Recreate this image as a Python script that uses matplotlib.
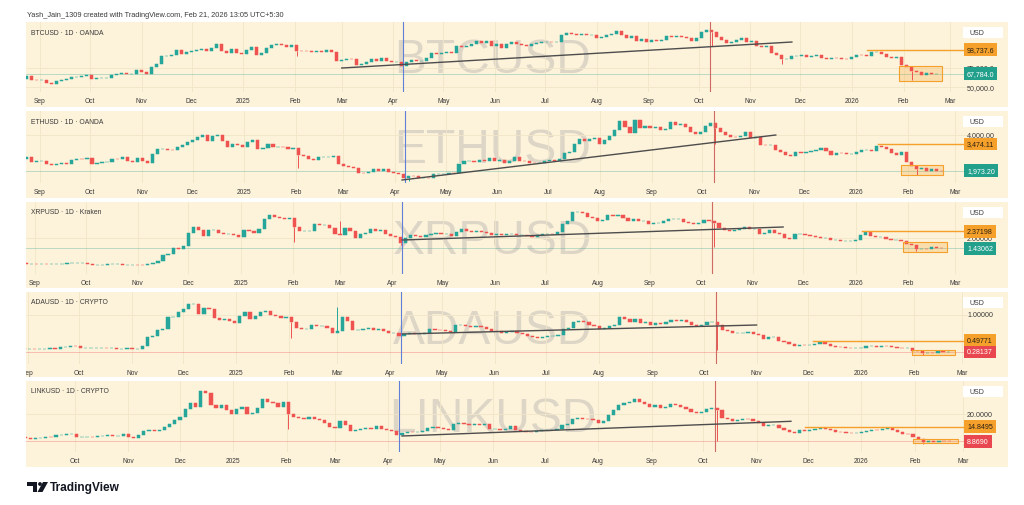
import datetime as dt

import matplotlib
matplotlib.use("Agg")
import matplotlib.pyplot as plt
import numpy as np
from matplotlib.patches import Circle, Polygon, Rectangle
from matplotlib.transforms import blended_transform_factory

# 3-day closes from 2024-08-21 to 2026-02-21 (first value = open of first candle)
BASE_DATE = "2024-08-24"
STEP_DAYS = 3

btc_close_k = [
    61.2, 64.2, 59.4, 59.1, 59.1, 56.2, 54.9, 57.6, 60.0, 60.3,
    63.2, 63.3, 65.2, 65.6, 60.6, 62.1, 62.2, 62.4, 66.0, 67.4,
    69.0, 66.7, 67.0, 72.7, 69.5, 67.8, 76.5, 80.4, 90.0, 90.6,
    92.3, 98.9, 93.0, 95.6, 97.2, 98.8, 99.9, 96.6, 101.4, 106.0,
    97.5, 95.1, 99.4, 94.3, 93.4, 98.1, 102.2, 92.5, 94.5, 100.5,
    104.4, 106.1, 104.7, 102.0, 104.7, 97.7, 96.6, 96.5, 95.8, 97.5,
    95.8, 98.3, 96.1, 84.7, 86.0, 87.2, 86.7, 78.5, 80.5, 82.6,
    86.8, 83.8, 87.4, 84.3, 82.5, 83.1, 78.2, 82.6, 85.3, 83.6,
    84.5, 87.5, 93.9, 93.8, 94.2, 95.9, 94.7, 102.9, 102.8, 103.6,
    106.5, 109.7, 107.9, 109.4, 103.9, 105.8, 101.5, 105.7, 108.7, 105.6,
    104.6, 103.3, 105.9, 107.2, 108.4, 108.9, 108.2, 108.9, 117.5, 119.8,
    119.3, 117.3, 118.7, 117.6, 117.9, 113.3, 115.0, 117.5, 119.3, 123.3,
    117.5, 113.5, 116.9, 110.1, 112.5, 108.3, 111.7, 110.2, 111.5, 115.9,
    115.3, 117.1, 115.3, 113.3, 109.6, 114.0, 122.3, 124.7, 121.5, 115.2,
    110.7, 107.2, 108.5, 111.0, 114.1, 108.3, 110.6, 103.9, 102.3, 103.0,
    94.5, 92.2, 86.6, 86.8, 90.5, 90.8, 91.3, 89.4, 90.6, 92.5,
    88.2, 86.2, 88.3, 87.5, 87.3, 87.2, 88.7, 91.5, 91.3, 90.5,
    95.5, 95.5, 92.6, 89.5, 88.3, 89.2, 78.6, 76.0, 70.5, 70.0,
    66.0, 68.8, 66.9, 67.8,
]
eth_close = [
    2630, 2770, 2460, 2530, 2540, 2370, 2300, 2340, 2420, 2340,
    2560, 2650, 2630, 2660, 2360, 2415, 2440, 2440, 2630, 2610,
    2750, 2520, 2480, 2680, 2510, 2400, 2900, 3180, 3220, 3130,
    3110, 3330, 3420, 3590, 3700, 3850, 4000, 3630, 3910, 3990,
    3630, 3280, 3490, 3400, 3330, 3600, 3690, 3220, 3260, 3450,
    3300, 3330, 3310, 3180, 3250, 2870, 2780, 2630, 2600, 2720,
    2740, 2740, 2820, 2340, 2220, 2170, 2140, 1870, 1860, 1890,
    2060, 1980, 2070, 1900, 1820, 1815, 1580, 1670, 1650, 1590,
    1590, 1580, 1770, 1790, 1800, 1840, 1820, 2350, 2500, 2540,
    2470, 2550, 2530, 2660, 2530, 2600, 2420, 2540, 2770, 2540,
    2510, 2410, 2400, 2420, 2500, 2570, 2520, 2620, 2950, 3010,
    3480, 3750, 3630, 3740, 3800, 3500, 3720, 3900, 4260, 4750,
    4420, 4070, 4830, 4380, 4500, 4390, 4450, 4280, 4310, 4710,
    4520, 4590, 4450, 4150, 4020, 4140, 4490, 4680, 4370, 4150,
    3990, 3890, 3880, 3940, 4150, 3810, 3890, 3420, 3400, 3420,
    3110, 3010, 2830, 2800, 3020, 2990, 3000, 3060, 3120, 3250,
    3090, 2830, 2980, 2960, 2930, 2940, 3000, 3130, 3160, 3090,
    3370, 3300, 3190, 2950, 2880, 3000, 2450, 2230, 2060, 2100,
    1940, 2050, 1980, 1973.2,
]
xrp_close = [
    0.60, 0.60, 0.56, 0.57, 0.56, 0.56, 0.54, 0.57, 0.58, 0.58,
    0.59, 0.59, 0.59, 0.64, 0.54, 0.53, 0.53, 0.53, 0.54, 0.54,
    0.55, 0.52, 0.52, 0.52, 0.51, 0.50, 0.55, 0.60, 0.70, 1.05,
    1.10, 1.45, 1.40, 1.55, 2.30, 2.60, 2.45, 2.10, 2.45, 2.45,
    2.30, 2.20, 2.20, 2.15, 2.08, 2.42, 2.40, 2.30, 2.50, 3.05,
    3.30, 3.15, 3.10, 3.05, 3.10, 2.60, 2.40, 2.40, 2.40, 2.75,
    2.70, 2.70, 2.55, 2.20, 2.15, 2.55, 2.40, 2.00, 2.20, 2.30,
    2.50, 2.40, 2.45, 2.20, 2.10, 2.05, 1.75, 2.00, 2.15, 2.10,
    2.08, 2.15, 2.20, 2.30, 2.20, 2.20, 2.10, 2.35, 2.50, 2.40,
    2.35, 2.40, 2.35, 2.30, 2.15, 2.20, 2.15, 2.25, 2.25, 2.15,
    2.15, 2.10, 2.05, 2.15, 2.25, 2.25, 2.20, 2.35, 2.75, 2.95,
    3.45, 3.45, 3.40, 3.15, 3.10, 2.95, 3.00, 3.30, 3.20, 3.30,
    3.10, 2.95, 3.05, 2.95, 2.95, 2.80, 2.85, 2.85, 2.95, 3.05,
    3.05, 3.05, 2.90, 2.85, 2.80, 2.85, 3.00, 2.95, 2.85, 2.55,
    2.45, 2.40, 2.45, 2.50, 2.60, 2.50, 2.50, 2.25, 2.30, 2.45,
    2.30, 2.20, 2.00, 1.95, 2.20, 2.20, 2.15, 2.10, 2.05, 2.00,
    2.00, 1.90, 1.90, 1.85, 1.85, 1.85, 1.90, 2.15, 2.35, 2.10,
    2.05, 2.05, 1.95, 1.90, 1.90, 1.85, 1.65, 1.60, 1.40, 1.40,
    1.38, 1.48, 1.45, 1.43062,
]
ada_close = [
    0.36, 0.38, 0.35, 0.34, 0.34, 0.33, 0.33, 0.34, 0.35, 0.34,
    0.37, 0.38, 0.40, 0.39, 0.35, 0.35, 0.35, 0.35, 0.36, 0.35,
    0.36, 0.34, 0.34, 0.36, 0.33, 0.33, 0.40, 0.56, 0.58, 0.70,
    0.73, 0.95, 0.95, 1.05, 1.10, 1.20, 1.20, 1.02, 1.12, 1.10,
    0.93, 0.90, 0.92, 0.88, 0.84, 0.97, 1.05, 0.92, 0.98, 1.05,
    1.07, 1.00, 0.98, 0.93, 0.95, 0.85, 0.75, 0.72, 0.73, 0.80,
    0.78, 0.78, 0.74, 0.65, 0.68, 0.95, 0.87, 0.70, 0.71, 0.72,
    0.74, 0.71, 0.72, 0.68, 0.65, 0.65, 0.58, 0.62, 0.64, 0.62,
    0.62, 0.65, 0.72, 0.71, 0.70, 0.69, 0.66, 0.80, 0.80, 0.78,
    0.76, 0.78, 0.76, 0.72, 0.69, 0.68, 0.64, 0.67, 0.69, 0.64,
    0.63, 0.58, 0.57, 0.55, 0.57, 0.58, 0.58, 0.60, 0.72, 0.75,
    0.85, 0.88, 0.85, 0.80, 0.78, 0.72, 0.75, 0.78, 0.80, 0.95,
    0.92, 0.85, 0.92, 0.84, 0.85, 0.80, 0.83, 0.82, 0.86, 0.90,
    0.88, 0.90, 0.85, 0.80, 0.78, 0.80, 0.85, 0.86, 0.80, 0.70,
    0.68, 0.65, 0.65, 0.65, 0.66, 0.62, 0.60, 0.54, 0.57, 0.57,
    0.50, 0.47, 0.44, 0.40, 0.42, 0.41, 0.41, 0.43, 0.47, 0.43,
    0.40, 0.38, 0.37, 0.36, 0.35, 0.35, 0.36, 0.39, 0.40, 0.38,
    0.40, 0.39, 0.37, 0.36, 0.35, 0.35, 0.30, 0.29, 0.26, 0.27,
    0.26, 0.29, 0.28, 0.28137,
]
link_close = [
    10.9, 11.2, 10.6, 10.5, 10.2, 10.0, 10.2, 10.4, 10.6, 10.5,
    11.3, 11.6, 11.7, 11.9, 10.6, 10.7, 10.8, 10.7, 11.1, 11.2,
    11.5, 10.9, 10.9, 11.8, 10.8, 10.2, 11.6, 13.0, 13.5, 13.2,
    13.6, 14.7, 16.0, 17.5, 18.9, 22.0, 24.5, 23.0, 29.5, 28.5,
    23.5, 22.5, 23.5, 21.5, 20.2, 22.0, 23.0, 20.0, 20.5, 22.5,
    26.0, 25.0, 24.5, 23.0, 25.0, 20.0, 19.0, 18.5, 18.0, 18.8,
    18.0, 17.5, 16.5, 14.8, 14.5, 17.0, 15.5, 13.0, 13.3, 13.8,
    14.5, 14.0, 15.0, 14.0, 13.7, 13.0, 11.3, 12.2, 12.8, 12.5,
    12.6, 13.0, 14.5, 14.8, 14.4, 14.0, 13.5, 16.0, 16.5, 16.0,
    15.5, 16.0, 15.5, 15.8, 14.0, 14.0, 13.5, 14.0, 15.2, 13.5,
    13.2, 12.8, 12.5, 13.0, 13.3, 13.5, 13.5, 14.0, 15.5, 16.0,
    18.0, 18.5, 18.0, 17.8, 17.5, 16.5, 17.0, 19.5, 21.5, 23.5,
    24.5, 25.0, 26.0, 25.0, 24.0, 23.0, 23.5, 22.5, 23.0, 24.0,
    23.5, 23.0, 22.0, 21.0, 20.5, 21.0, 22.0, 22.5, 21.5, 18.5,
    18.0, 17.0, 17.5, 18.0, 17.8, 17.0, 16.5, 15.0, 15.5, 15.5,
    14.5, 13.5, 12.5, 12.2, 13.3, 13.0, 13.5, 14.0, 14.5, 14.0,
    13.5, 12.8, 12.5, 12.3, 12.2, 12.3, 12.5, 13.0, 13.5, 13.3,
    14.0, 14.2, 13.5, 12.5, 12.0, 11.8, 10.5, 9.8, 8.8, 8.9,
    8.6, 9.0, 8.9, 8.869,
]

# long wicks (date, price)
btc_lows = [("2025-02-03", 91000), ("2025-10-10", 104000), ("2025-11-21", 80500), ("2026-02-05", 60000)]
eth_lows = [("2025-02-03", 2150), ("2025-04-09", 1400), ("2025-10-10", 3450), ("2026-02-06", 1750)]
xrp_lows = [("2025-02-03", 1.77), ("2025-04-07", 1.62), ("2025-10-10", 1.50), ("2026-02-06", 1.28)]
ada_lows = [("2025-02-03", 0.55), ("2025-10-10", 0.31), ("2026-02-06", 0.22)]
link_lows = [("2025-02-03", 14.0), ("2025-10-10", 9.2), ("2026-02-06", 7.9)]
xrp_highs = [("2025-03-02", 2.96)]
ada_highs = [("2025-03-02", 1.14)]

symbols = ["BTCUSD", "ETHUSD", "XRPUSD", "ADAUSD", "LINKUSD"]
titles = ["BTCUSD · 1D · OANDA", "ETHUSD · 1D · OANDA", "XRPUSD · 1D · Kraken",
          "ADAUSD · 1D · CRYPTO", "LINKUSD · 1D · CRYPTO"]

scale_values = [[75000, 50000], [4000], [2.0], [1.0], [20.0]]
scale_labels = [["75,000.0", "50,000.0"], ["4,000.00"], ["2.00000"], ["1.00000"], ["20.0000"]]

level_prices = [98737.6, 3474.11, 2.37198, 0.49771, 14.8495]
level_labels = ["98,737.6", "3,474.11", "2.37198", "0.49771", "14.8495"]
level_start = ["2026-01-10", "2026-01-14", "2026-01-05", "2025-12-04", "2025-11-29"]

last_prices = [67784.0, 1973.20, 1.43062, 0.28137, 8.8690]
last_labels = ["67,784.0", "1,973.20", "1.43062", "0.28137", "8.8690"]
last_is_up = [True, True, True, False, False]

box_dates = [("2026-01-29", "2026-02-24"), ("2026-01-28", "2026-02-22"), ("2026-01-29", "2026-02-24"),
             ("2026-01-31", "2026-02-25"), ("2026-01-31", "2026-02-26")]
box_prices = [(58200, 77600), (1732, 2294), (1.209, 1.763), (0.2221, 0.3243), (8.08, 9.83)]

trend_dates = [("2025-03-01", "2025-11-26"), ("2025-04-05", "2025-11-14"), ("2025-04-07", "2025-11-19"),
               ("2025-04-08", "2025-11-01"), ("2025-04-09", "2025-11-21")]
trend_prices = [(75000, 108700), (1451, 3980), (1.89, 2.61), (0.627, 0.80), (11.06, 17.05)]

BLUE_DATE = "2025-04-07"
RED_DATE = "2025-10-08"

# ---- layout (pixels of the 1024x506 picture) ----
W, H = 1024, 506
PLOT_L, PLOT_R, PANEL_R = 26, 968, 1008
LABEL_X = 967
panel_top = [23, 112, 203, 293, 382]
plot_bottom = [93, 184, 275, 365, 453]
panel_bottom = [108, 199, 289, 378, 468]
x_origin = [26.7, 26.6, 21.5, 14.0, 9.6]       # pixel of BASE_DATE
px_per_day = [1.667, 1.676, 1.685, 1.711, 1.721]
anchor_px = [50.7, 145.0, 232.3, 341.7, 427.7]   # pixel row of the level price
price_per_px = [1296, 56.2, 0.05537, 0.01927, 0.408]

BEIGE = "#fdf2da"
UP, DOWN = "#26a69a", "#ef5350"
ORANGE = "#f5a02a"
TEXT = "#3a3a3a"

plt.rcParams["font.family"] = ["Liberation Sans", "DejaVu Sans"]


def day(s):
    return (dt.date.fromisoformat(s) - dt.date.fromisoformat(BASE_DATE)).days


def draw_candles(ax, closes, lows=(), highs=()):
    c = np.asarray(closes, dtype=float)
    o, cl = c[:-1], c[1:]
    x = np.arange(len(cl)) * STEP_DAYS
    colors = np.where(cl >= o, UP, DOWN)
    ax.bar(x, cl - o, bottom=o, width=1.9, color=colors, edgecolor=colors, linewidth=0.35, zorder=3)
    for d, v in lows:
        i = int(round(day(d) / STEP_DAYS))
        ax.vlines(x[i], v, min(o[i], cl[i]), color=colors[i], lw=0.7, zorder=3)
    for d, v in highs:
        i = int(round(day(d) / STEP_DAYS))
        ax.vlines(x[i], max(o[i], cl[i]), v, color=colors[i], lw=0.7, zorder=3)


series = [
    (np.array(btc_close_k) * 1000, btc_lows, []),
    (eth_close, eth_lows, []),
    (xrp_close, xrp_lows, xrp_highs),
    (ada_close, ada_lows, ada_highs),
    (link_close, link_lows, []),
]

month_dates, month_labels = [], []
for y, m in [(2024, 9), (2024, 10), (2024, 11), (2024, 12)] + [(2025, k) for k in range(1, 13)] + [(2026, 1), (2026, 2), (2026, 3)]:
    month_dates.append(f"{y}-{m:02d}-01")
    month_labels.append(str(y) if m == 1 else dt.date(y, m, 1).strftime("%b"))

fig = plt.figure(figsize=(W / 100, H / 100), dpi=100)
fig.patch.set_facecolor("white")
bg = fig.add_axes([0, 0, 1, 1], zorder=0)
fg = fig.add_axes([0, 0, 1, 1], zorder=3)
for a in (bg, fg):
    a.set_xlim(0, W)
    a.set_ylim(H, 0)
    a.axis("off")
fg.patch.set_alpha(0)

fg.text(27, 15, "Yash_Jain_1309 created with TradingView.com, Feb 21, 2026 13:05 UTC+5:30",
        fontsize=5.3, color=TEXT, va="center")

for p in range(5):
    top, pbot, bot = panel_top[p], plot_bottom[p], panel_bottom[p]
    panel = Rectangle((PLOT_L, top), PANEL_R - PLOT_L, bot - top, fc=BEIGE, ec="none")
    bg.add_patch(panel)
    fg.add_patch(Rectangle((963, top + 5), 40, 11, fc="white", ec="none"))
    fg.text(969, top + 10.5, "USD", fontsize=5.0, color=TEXT, va="center")
    fg.text(31, top + 10, titles[p], fontsize=4.9, color=TEXT, va="center")

    ax = fig.add_axes([PLOT_L / W, 1 - pbot / H, (PLOT_R - PLOT_L) / W, (pbot - top) / H], zorder=1)
    ax.set_facecolor("none")
    for s in ax.spines.values():
        s.set_visible(False)

    x0, b = x_origin[p], px_per_day[p]
    xl, xr = (PLOT_L - x0) / b, (PLOT_R - x0) / b
    ax.set_xlim(xl, xr)
    ap, apx, s = level_prices[p], anchor_px[p], price_per_px[p]
    ax.set_ylim(ap - (pbot - apx) * s, ap + (apx - top) * s)

    ticks = [(day(d), t) for d, t in zip(month_dates, month_labels) if xl <= day(d) <= xr]
    ax.set_xticks([d for d, _ in ticks])
    ax.set_xticklabels([t for _, t in ticks])
    ax.set_yticks(scale_values[p])
    ax.tick_params(axis="x", length=0, pad=3.5, labelsize=4.8, labelcolor=TEXT)
    ax.tick_params(axis="y", length=0, labelleft=False)
    ax.grid(color="#f2e5c8", lw=0.6, zorder=0)
    for lbl in ax.get_xticklabels():
        lbl.set_clip_path(panel)

    ax.text((493 - PLOT_L) / (PLOT_R - PLOT_L), 0.47, symbols[p], transform=ax.transAxes,
            ha="center", va="center", fontsize=34.5, color="#ddd5c6", zorder=1)

    closes, lows, highs = series[p]
    draw_candles(ax, closes, lows, highs)

    ax.axvline(day(BLUE_DATE), color="#5f80d8", lw=0.8, zorder=4)
    ax.axvline(day(RED_DATE), color="#cf6a63", lw=0.8, zorder=4)

    (d1, d2), (p1, p2) = trend_dates[p], trend_prices[p]
    ax.plot([day(d1), day(d2)], [p1, p2], color="#4d4d4d", lw=1.0, zorder=4)

    up = last_is_up[p]
    last_col = "#22a08c" if up else "#e8474f"
    ax.axhline(last_prices[p], color=last_col, lw=0.6, alpha=0.35, zorder=2)

    ax.plot([day(level_start[p]), xr], [level_prices[p]] * 2, color=ORANGE, lw=1.0, zorder=4)

    (b1, b2), (lo, hi) = box_dates[p], box_prices[p]
    ax.add_patch(Rectangle((day(b1), lo), day(b2) - day(b1), hi - lo, fc=ORANGE, alpha=0.25,
                           ec="none", zorder=2))
    ax.add_patch(Rectangle((day(b1), lo), day(b2) - day(b1), hi - lo, fc="none", ec=ORANGE,
                           lw=0.8, zorder=4))

    blend = blended_transform_factory(ax.transAxes, ax.transData)
    fx = (LABEL_X - PLOT_L) / (PLOT_R - PLOT_L)
    for v, t in zip(scale_values[p], scale_labels[p]):
        ax.text(fx, v, t, transform=blend, fontsize=5.1, color=TEXT, va="center", clip_on=False)
    ax.text(fx, level_prices[p], level_labels[p], transform=blend, fontsize=5.1, color="#2b2113",
            va="center", clip_on=False, zorder=6,
            bbox=dict(boxstyle="square,pad=0.4", fc=ORANGE, ec="none"))
    ax.text(fx, last_prices[p], last_labels[p], transform=blend, fontsize=5.1, color="white",
            va="center", clip_on=False, zorder=6,
            bbox=dict(boxstyle="square,pad=0.4", fc=last_col, ec="none"))

# TradingView mark
INK = "#131722"
fg.add_patch(Rectangle((27, 483), 10, 3.6, fc=INK, ec="none"))
fg.add_patch(Rectangle((32.5, 483), 4.5, 10, fc=INK, ec="none"))
fg.add_patch(Circle((40, 485), 1.9, fc=INK, ec="none"))
fg.add_patch(Polygon([(43, 483), (48, 483), (42.5, 493), (37.5, 493)], closed=True, fc=INK, ec="none"))
fg.text(50, 488, "TradingView", fontsize=8.6, fontweight="bold", color=INK, va="center")

fig.savefig("out.png", dpi=100, facecolor="white")
